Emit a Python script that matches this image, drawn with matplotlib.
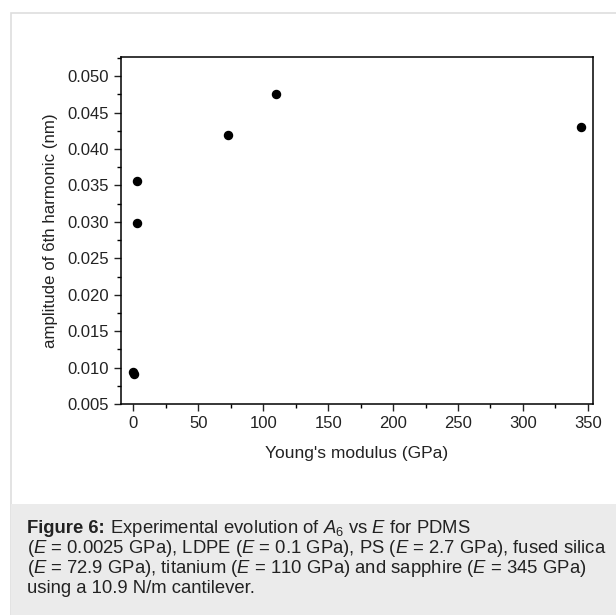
import numpy as np
import matplotlib.pyplot as plt
from matplotlib.patches import Rectangle
from matplotlib.ticker import MultipleLocator, FormatStrFormatter

# Dados (E em GPa, amplitude em nm)
modulo = [0.0025, 0.1, 2.7, 2.7, 72.9, 110, 345]
amplitude = [0.0094, 0.0091, 0.0298, 0.0356, 0.0420, 0.0476, 0.0430]

plt.rcParams['font.family'] = ['Liberation Sans', 'DejaVu Sans']
plt.rcParams['mathtext.fontset'] = 'custom'
plt.rcParams['mathtext.rm'] = 'Liberation Sans'
plt.rcParams['mathtext.it'] = 'Liberation Sans:italic'
plt.rcParams['mathtext.bf'] = 'Liberation Sans:bold'

W, H = 616, 615
fig = plt.figure(figsize=(W / 100, H / 100), dpi=100)

# moldura externa e caixa cinza da legenda
fig.patches.append(Rectangle((10.5 / W, 0), 1.0, 1 - 13 / H, transform=fig.transFigure,
                             facecolor='white', edgecolor='#dedede', lw=1.2, zorder=0))
fig.patches.append(Rectangle((10.5 / W, 0), 1.0, (615 - 504) / H, transform=fig.transFigure,
                             facecolor='#ebebeb', edgecolor='none', zorder=1))

ax = fig.add_axes([120.5 / W, (615 - 404) / H, (593 - 120.5) / W, (404 - 57.3) / H])
ax.set_zorder(3)
ax.plot(modulo, amplitude, 'o', color='black', ms=5.8, clip_on=False)
ax.set_xlim(-10, 354)
ax.set_ylim(0.005, 0.0526)
ax.xaxis.set_major_locator(MultipleLocator(50))
ax.xaxis.set_minor_locator(MultipleLocator(25))
ax.yaxis.set_major_locator(MultipleLocator(0.005))
ax.yaxis.set_minor_locator(MultipleLocator(0.0025))
ax.yaxis.set_major_formatter(FormatStrFormatter('%.3f'))
ax.tick_params(which='major', direction='out', length=4.8, width=1, labelsize=12, colors='#222222')
ax.tick_params(which='minor', direction='out', length=2.6, width=1)
for s in ax.spines.values():
    s.set_linewidth(1.1)
ax.set_xlabel("Young's modulus (GPa)", fontsize=12.5, labelpad=11, color='#222222')
ax.set_ylabel('amplitude of 6th harmonic (nm)', fontsize=12.2, labelpad=7, color='#222222')

# legenda da figura
tam = 13.3
x0 = 27 / W
negrito = fig.text(x0, 1 - 533 / H, 'Figure 6:', fontsize=tam, fontweight='bold',
                   color='#222222', va='baseline', zorder=3)
r = fig.canvas.get_renderer()
larg = negrito.get_window_extent(r).width / W
fig.text(x0 + larg, 1 - 533 / H, r' Experimental evolution of $\it{A}_6$ vs $\it{E}$ for PDMS',
         fontsize=tam, color='#222222', va='baseline', zorder=3)
linhas = [
    r'($\it{E}$ = 0.0025 GPa), LDPE ($\it{E}$ = 0.1 GPa), PS ($\it{E}$ = 2.7 GPa), fused silica',
    r'($\it{E}$ = 72.9 GPa), titanium ($\it{E}$ = 110 GPa) and sapphire ($\it{E}$ = 345 GPa)',
    'using a 10.9 N/m cantilever.',
]
for i, t in enumerate(linhas):
    fig.text(x0, 1 - (553 + 20 * i) / H, t, fontsize=tam, color='#222222', va='baseline', zorder=3)

fig.savefig('out.png', dpi=100)
